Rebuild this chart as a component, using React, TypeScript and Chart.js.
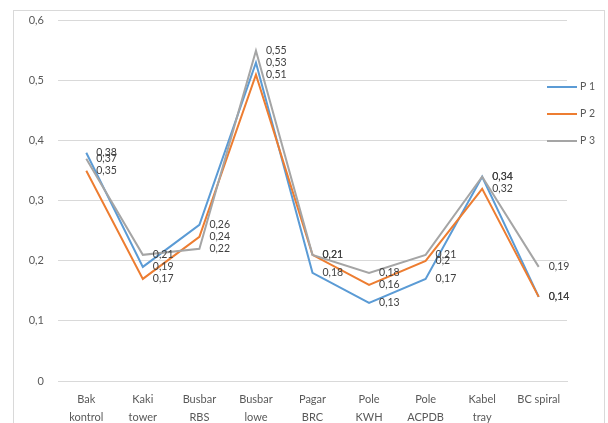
import React, { useEffect, useRef } from "react";
import { Chart, registerables } from "chart.js";

Chart.register(...registerables);

const categories: string[][] = [
  ["Bak", "kontrol"],
  ["Kaki", "tower"],
  ["Busbar", "RBS"],
  ["Busbar", "lowe"],
  ["Pagar", "BRC"],
  ["Pole", "KWH"],
  ["Pole", "ACPDB"],
  ["Kabel", "tray"],
  ["BC spiral"],
];
const p1: number[] = [0.38, 0.19, 0.26, 0.53, 0.18, 0.13, 0.17, 0.34, 0.14];
const p2: number[] = [0.35, 0.17, 0.24, 0.51, 0.21, 0.16, 0.2, 0.32, 0.14];
const p3: number[] = [0.37, 0.21, 0.22, 0.55, 0.21, 0.18, 0.21, 0.34, 0.19];
const seriesNames = ["P 1", "P 2", "P 3"];
const seriesColors = ["#5B9BD5", "#ED7D31", "#A5A5A5"];
const yTicks: number[] = [0, 0.1, 0.2, 0.3, 0.4, 0.5, 0.6];

const fmt = (v: number) => String(v).replace(".", ",");
const FONT = "Lato, 'Liberation Sans', sans-serif";

const framePlugin = {
  id: "frame",
  beforeDraw(chart: any) {
    const ctx = chart.ctx;
    ctx.save();
    ctx.fillStyle = "#ffffff";
    ctx.fillRect(0, 0, chart.width, chart.height);
    ctx.strokeStyle = "#d9d9d9";
    ctx.lineWidth = 1;
    ctx.strokeRect(13.5, 10.5, 591, 440);
    ctx.restore();
  },
};

const labelsPlugin = {
  id: "pointLabels",
  afterDatasetsDraw(chart: any) {
    const ctx = chart.ctx;
    ctx.save();
    ctx.font = `10.5px ${FONT}`;
    ctx.fillStyle = "#404040";
    ctx.textAlign = "left";
    ctx.textBaseline = "middle";
    chart.data.datasets.forEach((ds: any, i: number) => {
      const meta = chart.getDatasetMeta(i);
      meta.data.forEach((pt: any, j: number) => {
        ctx.fillText(fmt(ds.data[j]), pt.x + 10, pt.y);
      });
    });
    ctx.restore();
  },
};

const legendPlugin = {
  id: "customLegend",
  afterDraw(chart: any) {
    const ctx = chart.ctx;
    ctx.save();
    ctx.font = `10.5px ${FONT}`;
    ctx.textAlign = "left";
    ctx.textBaseline = "middle";
    const ys = [87, 114, 141];
    chart.data.datasets.forEach((ds: any, i: number) => {
      const y = ys[i];
      ctx.strokeStyle = ds.borderColor;
      ctx.lineWidth = 2;
      ctx.beginPath();
      ctx.moveTo(547, y);
      ctx.lineTo(577, y);
      ctx.stroke();
      ctx.fillStyle = "#595959";
      ctx.fillText(ds.label, 580, y);
    });
    ctx.restore();
  },
};

export default function App() {
  const ref = useRef<HTMLCanvasElement | null>(null);
  useEffect(() => {
    if (!ref.current) return;
    const data = [p1, p2, p3];
    const chart = new Chart(ref.current, {
      type: "line",
      data: {
        labels: categories,
        datasets: data.map((d, i) => ({
          label: seriesNames[i],
          data: d,
          borderColor: seriesColors[i],
          backgroundColor: seriesColors[i],
          borderWidth: 2,
          pointRadius: 0,
          tension: 0,
          order: 3 - i,
        })),
      },
      options: {
        animation: false,
        responsive: false,
        layout: { padding: { left: 13, right: 41, top: 20, bottom: 0 } },
        plugins: { legend: { display: false }, tooltip: { enabled: false } },
        scales: {
          x: {
            offset: true,
            grid: { display: false, drawTicks: false, offset: true },
            border: { display: true, color: "#d9d9d9" },
            ticks: {
              padding: 10,
              maxRotation: 0,
              autoSkip: false,
              color: "#595959",
              font: { family: FONT, size: 11, lineHeight: 1.6 },
            },
            afterFit(scale: any) {
              scale.height = 42;
            },
          },
          y: {
            min: 0,
            max: 0.6,
            afterBuildTicks(scale: any) {
              scale.ticks = yTicks.map((v) => ({ value: v }));
            },
            grid: { color: "#d9d9d9", drawTicks: false },
            border: { display: false },
            ticks: {
              padding: 14,
              color: "#595959",
              font: { family: FONT, size: 11 },
              callback: (v: any) => fmt(Number(v)),
            },
            afterFit(scale: any) {
              scale.width = 45;
            },
          },
        },
      },
      plugins: [framePlugin, labelsPlugin, legendPlugin],
    });
    return () => chart.destroy();
  }, []);
  return (
    <div style={{ position: "fixed", left: 0, top: 0, width: 608, height: 423, background: "#fff" }}>
      <canvas ref={ref} width={608} height={423} style={{ width: 608, height: 423, display: "block" }} />
    </div>
  );
}
